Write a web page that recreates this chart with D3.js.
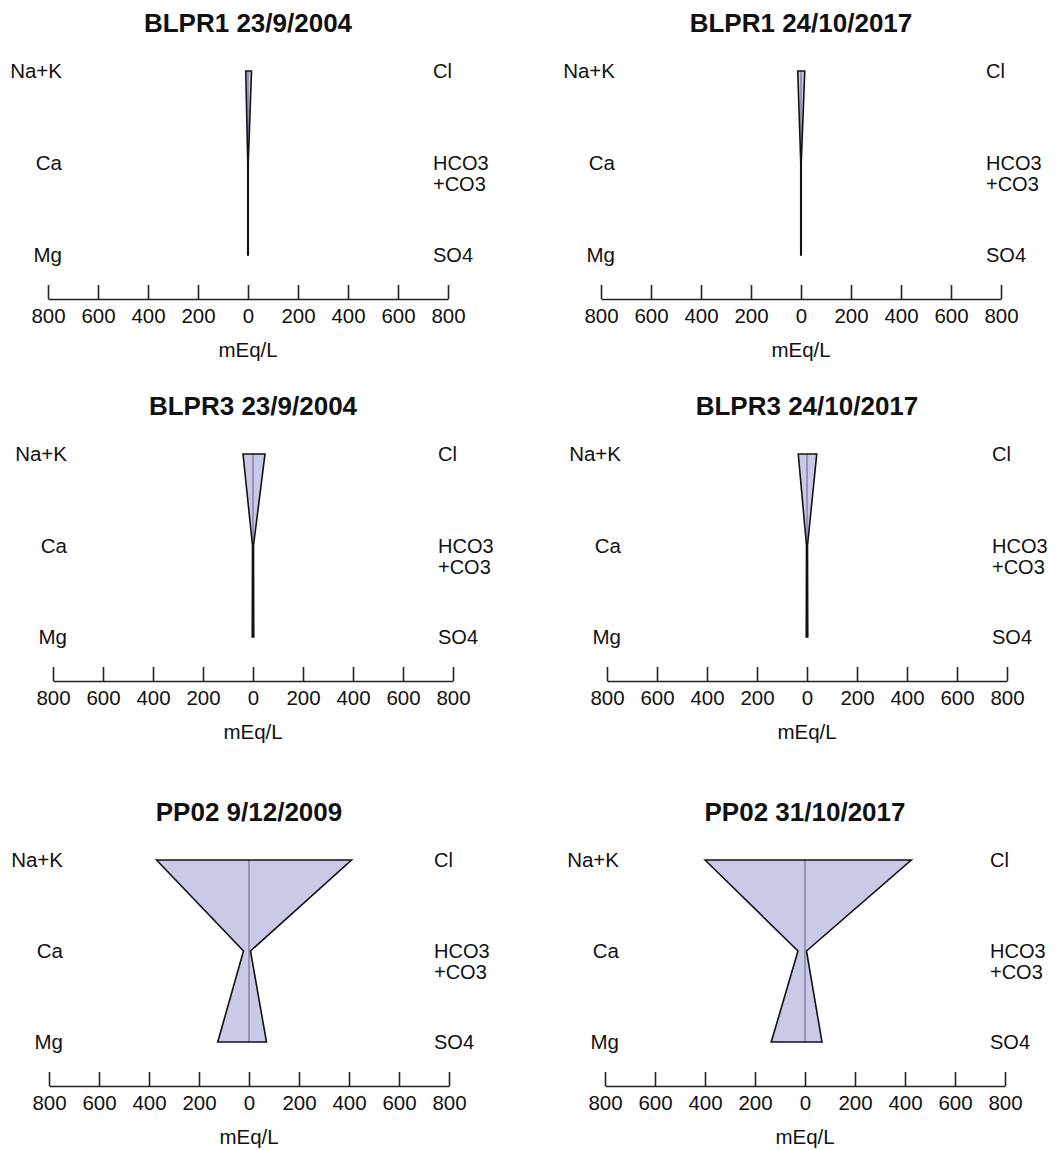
<!DOCTYPE html>
<html>
<head>
<meta charset="utf-8">
<script src="https://cdn.jsdelivr.net/npm/d3@7"></script>
<style>
  html, body { margin: 0; padding: 0; background: #ffffff; }
  svg { display: block; font-family: "Liberation Sans", Arial, Helvetica, sans-serif; }
</style>
</head>
<body>
<svg id="chart" width="1056" height="1150"></svg>
<script>
// Stiff diagrams: major ions in mEq/L for each sample
const cations = ["Na+K", "Ca", "Mg"];
const anions = ["Cl", "HCO3\n+CO3", "SO4"];
const sampleTitles = [
  "BLPR1 23/9/2004", "BLPR1 24/10/2017",
  "BLPR3 23/9/2004", "BLPR3 24/10/2017",
  "PP02 9/12/2009", "PP02 31/10/2017"
];
// Na+K, Ca, Mg
const cationValues = [
  [9, 1, 1],
  [13, 1, 1],
  [40, 2, 3],
  [35, 2, 3],
  [370, 22, 125],
  [400, 28, 135]
];
// Cl, HCO3+CO3, SO4
const anionValues = [
  [14, 1, 1],
  [15, 1, 1],
  [48, 2, 3],
  [39, 2, 3],
  [410, 6, 70],
  [425, 6, 68]
];
const tickValues = [-800, -600, -400, -200, 0, 200, 400, 600, 800];
const axisLabel = "mEq/L";

// Panel placement on the page
const panelLeft = [48, 601, 53, 607, 49, 605];
const panelTopRow = [71, 71, 454, 454, 860, 860];
const rowGap = [92, 92, 91.5, 91.5, 91, 91];
const axisGap = 44;
const panelWidth = 400;

const svg = d3.select("#chart");

sampleTitles.forEach((title, i) => {
  const x = d3.scaleLinear().domain([-800, 800]).range([panelLeft[i], panelLeft[i] + panelWidth]);
  const y = d3.scalePoint().domain([0, 1, 2])
    .range([panelTopRow[i], panelTopRow[i] + 2 * rowGap[i]]);
  const axisY = y(2) + axisGap;
  const g = svg.append("g");

  // title
  g.append("text")
    .attr("x", x(0))
    .attr("y", y(0) - 39)
    .attr("text-anchor", "middle")
    .attr("font-size", 26)
    .attr("font-weight", "bold")
    .attr("fill", "#111")
    .text(title);

  // outline points: cations on the left going down, anions on the right going up
  const pts = [];
  cationValues[i].forEach((v, k) => pts.push([x(-v), y(k)]));
  for (let k = anionValues[i].length - 1; k >= 0; k--) pts.push([x(anionValues[i][k]), y(k)]);

  g.append("path")
    .attr("d", "M" + pts.map(p => p.join(",")).join("L") + "Z")
    .attr("fill", "#c9c9e8")
    .attr("stroke", "none");

  g.append("line")
    .attr("x1", x(0)).attr("x2", x(0))
    .attr("y1", y(0)).attr("y2", y(2))
    .attr("stroke", "#6a5c7e")
    .attr("stroke-width", 1);

  g.append("path")
    .attr("d", "M" + pts.map(p => p.join(",")).join("L") + "Z")
    .attr("fill", "none")
    .attr("stroke", "#111")
    .attr("stroke-width", 1.6)
    .attr("stroke-linejoin", "miter");

  // ion labels
  cations.forEach((c, k) => {
    g.append("text")
      .attr("x", x(-800) + 14)
      .attr("y", y(k) + 7)
      .attr("text-anchor", "end")
      .attr("font-size", 20.5)
      .attr("fill", "#111")
      .text(c);
  });
  anions.forEach((a, k) => {
    const lines = a.split("\n");
    lines.forEach((line, j) => {
      g.append("text")
        .attr("x", x(800) - 15)
        .attr("y", y(k) + 7 + j * 21)
        .attr("font-size", 20)
        .attr("fill", "#111")
        .text(line);
    });
  });

  // axis
  const axis = d3.axisBottom(x)
    .tickValues(tickValues)
    .tickFormat(d => Math.abs(d))
    .tickSizeInner(-14)
    .tickSizeOuter(0)
    .tickPadding(9);
  const ag = g.append("g")
    .attr("transform", `translate(0,${axisY})`)
    .call(axis);
  ag.select(".domain").attr("stroke", "#222").attr("stroke-width", 1.6);
  ag.selectAll(".tick line").attr("stroke", "#222").attr("stroke-width", 1.6);
  ag.selectAll(".tick text")
    .attr("font-size", 20.5)
    .attr("font-family", "\"Liberation Sans\", Arial, sans-serif")
    .attr("fill", "#111");

  g.append("text")
    .attr("x", x(0))
    .attr("y", axisY + 58)
    .attr("text-anchor", "middle")
    .attr("font-size", 20.5)
    .attr("fill", "#111")
    .text(axisLabel);
});
</script>
</body>
</html>
